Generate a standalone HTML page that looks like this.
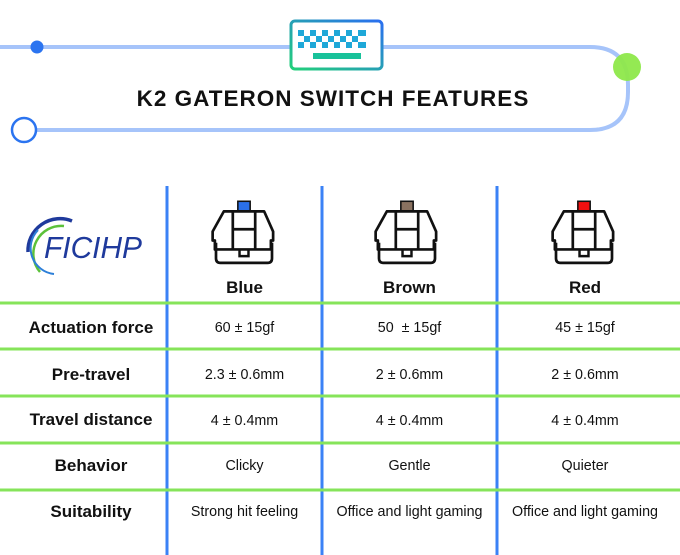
<!DOCTYPE html>
<html><head><style>
body{margin:0;width:680px;height:555px;background:#fff;position:relative;overflow:hidden;font-family:"Liberation Sans",sans-serif;color:#111}
.t{position:absolute;text-align:center;white-space:nowrap}
.lab{font-weight:bold;font-size:17px;width:182px;left:0}
.c{font-size:14.3px}
.c1{left:167px;width:155px}.c2{left:322px;width:175px}.c3{left:497px;width:176px}
.h{font-weight:bold;font-size:17px}
</style></head><body>
<svg width="680" height="555" style="position:absolute;left:0;top:0">
<defs>
<linearGradient id="kg" x1="0" y1="1" x2="1" y2="0"><stop offset="0" stop-color="#22d07a"/><stop offset="1" stop-color="#2a6ff0"/></linearGradient>
<g id="sw">
<path d="M-18 -22 h36 l8 18 v8 l-2 0 v8 h-50 v-8 l-2 0 v-8 z" fill="#fff" stroke="#111" stroke-width="2.4" stroke-linejoin="round"/>
<path d="M-10 -22 v34 M10 -22 v34 M-10 -6 h20" stroke="#111" stroke-width="2.4" fill="none"/>
<path d="M-4 12 v6 h8 v-6" stroke="#111" stroke-width="2.2" fill="none"/>
<path d="M-25 6 v14 q0 4 4 4 h42 q4 0 4 -4 v-14" stroke="#111" stroke-width="2.4" fill="none"/>
</g>
</defs>
<path d="M0 47 H590 Q628 47 628 85 V92 Q628 130 590 130 H37" fill="none" stroke="#a6c4fa" stroke-width="4"/>
<circle cx="37" cy="47" r="6.5" fill="#2b74f0"/>
<circle cx="24" cy="130" r="12" fill="#fff" stroke="#2b74f0" stroke-width="2.5"/>
<circle cx="627" cy="67" r="14" fill="#8ee84a" opacity="0.95"/>
<rect x="291" y="21" width="91" height="48" rx="4" fill="#fff" stroke="url(#kg)" stroke-width="3"/>
<g fill="#1fa8d8">
<rect x="298" y="30" width="6" height="6"/><rect x="310" y="30" width="6" height="6"/><rect x="322" y="30" width="6" height="6"/><rect x="334" y="30" width="6" height="6"/><rect x="346" y="30" width="6" height="6"/><rect x="358" y="30" width="8" height="6"/>
<rect x="304" y="36" width="6" height="6"/><rect x="316" y="36" width="6" height="6"/><rect x="328" y="36" width="6" height="6"/><rect x="340" y="36" width="6" height="6"/><rect x="352" y="36" width="6" height="6"/>
<rect x="298" y="42" width="6" height="6"/><rect x="310" y="42" width="6" height="6"/><rect x="322" y="42" width="6" height="6"/><rect x="334" y="42" width="6" height="6"/><rect x="346" y="42" width="6" height="6"/><rect x="358" y="42" width="8" height="6"/>
</g>
<rect x="313" y="53" width="48" height="6" fill="#18c29a"/>
<g stroke="#3b82f6" stroke-width="3"><line x1="167" y1="186" x2="167" y2="555"/><line x1="322" y1="186" x2="322" y2="555"/><line x1="497" y1="186" x2="497" y2="555"/></g>
<g stroke="#86e45a" stroke-width="3"><line x1="0" y1="303" x2="680" y2="303"/><line x1="0" y1="349" x2="680" y2="349"/><line x1="0" y1="396" x2="680" y2="396"/><line x1="0" y1="443" x2="680" y2="443"/><line x1="0" y1="490" x2="680" y2="490"/></g>
<g transform="translate(244,236) scale(1.12)"><rect x="-5.5" y="-31" width="11" height="10" fill="#2a6fe8" stroke="#111" stroke-width="1.4"/><use href="#sw"/></g>
<g transform="translate(407,236) scale(1.12)"><rect x="-5.5" y="-31" width="11" height="10" fill="#8a7260" stroke="#111" stroke-width="1.4"/><use href="#sw"/></g>
<g transform="translate(584,236) scale(1.12)"><rect x="-5.5" y="-31" width="11" height="10" fill="#f01010" stroke="#111" stroke-width="1.4"/><use href="#sw"/></g>
<path d="M72 221 A32 32 0 0 0 28 252" fill="none" stroke="#1f3a9c" stroke-width="3.5"/>
<path d="M64 226 A28 28 0 0 0 40 272" fill="none" stroke="#5cc13a" stroke-width="2.5"/>
<path d="M38 230 A26 26 0 0 0 54 274" fill="none" stroke="#2d7fd8" stroke-width="2"/>
<text x="44" y="258" font-family="Liberation Sans,sans-serif" font-style="italic" font-size="31" fill="#1f3a9c" textLength="98" lengthAdjust="spacingAndGlyphs">FICIHP</text>
</svg>
<div class="t h" style="left:0;width:666px;top:86px;font-size:22.5px;letter-spacing:1px">K2 GATERON SWITCH FEATURES</div>
<div class="t h c1" style="top:278px">Blue</div>
<div class="t h c2" style="top:278px">Brown</div>
<div class="t h c3" style="top:278px">Red</div>
<div class="t lab" style="top:318px">Actuation force</div>
<div class="t lab" style="top:365px">Pre-travel</div>
<div class="t lab" style="top:410px">Travel distance</div>
<div class="t lab" style="top:456px">Behavior</div>
<div class="t lab" style="top:502px">Suitability</div>
<div class="t c c1" style="top:320px">60 ± 15gf</div>
<div class="t c c2" style="top:320px">50 &nbsp;± 15gf</div>
<div class="t c c3" style="top:320px">45 ± 15gf</div>
<div class="t c c1" style="top:367px">2.3 ± 0.6mm</div>
<div class="t c c2" style="top:367px">2 ± 0.6mm</div>
<div class="t c c3" style="top:367px">2 ± 0.6mm</div>
<div class="t c c1" style="top:413px">4 ± 0.4mm</div>
<div class="t c c2" style="top:413px">4 ± 0.4mm</div>
<div class="t c c3" style="top:413px">4 ± 0.4mm</div>
<div class="t c c1" style="top:458px">Clicky</div>
<div class="t c c2" style="top:458px">Gentle</div>
<div class="t c c3" style="top:458px">Quieter</div>
<div class="t c c1" style="top:504px">Strong hit feeling</div>
<div class="t c c2" style="top:504px">Office and light gaming</div>
<div class="t c c3" style="top:504px">Office and light gaming</div>
</body></html>
